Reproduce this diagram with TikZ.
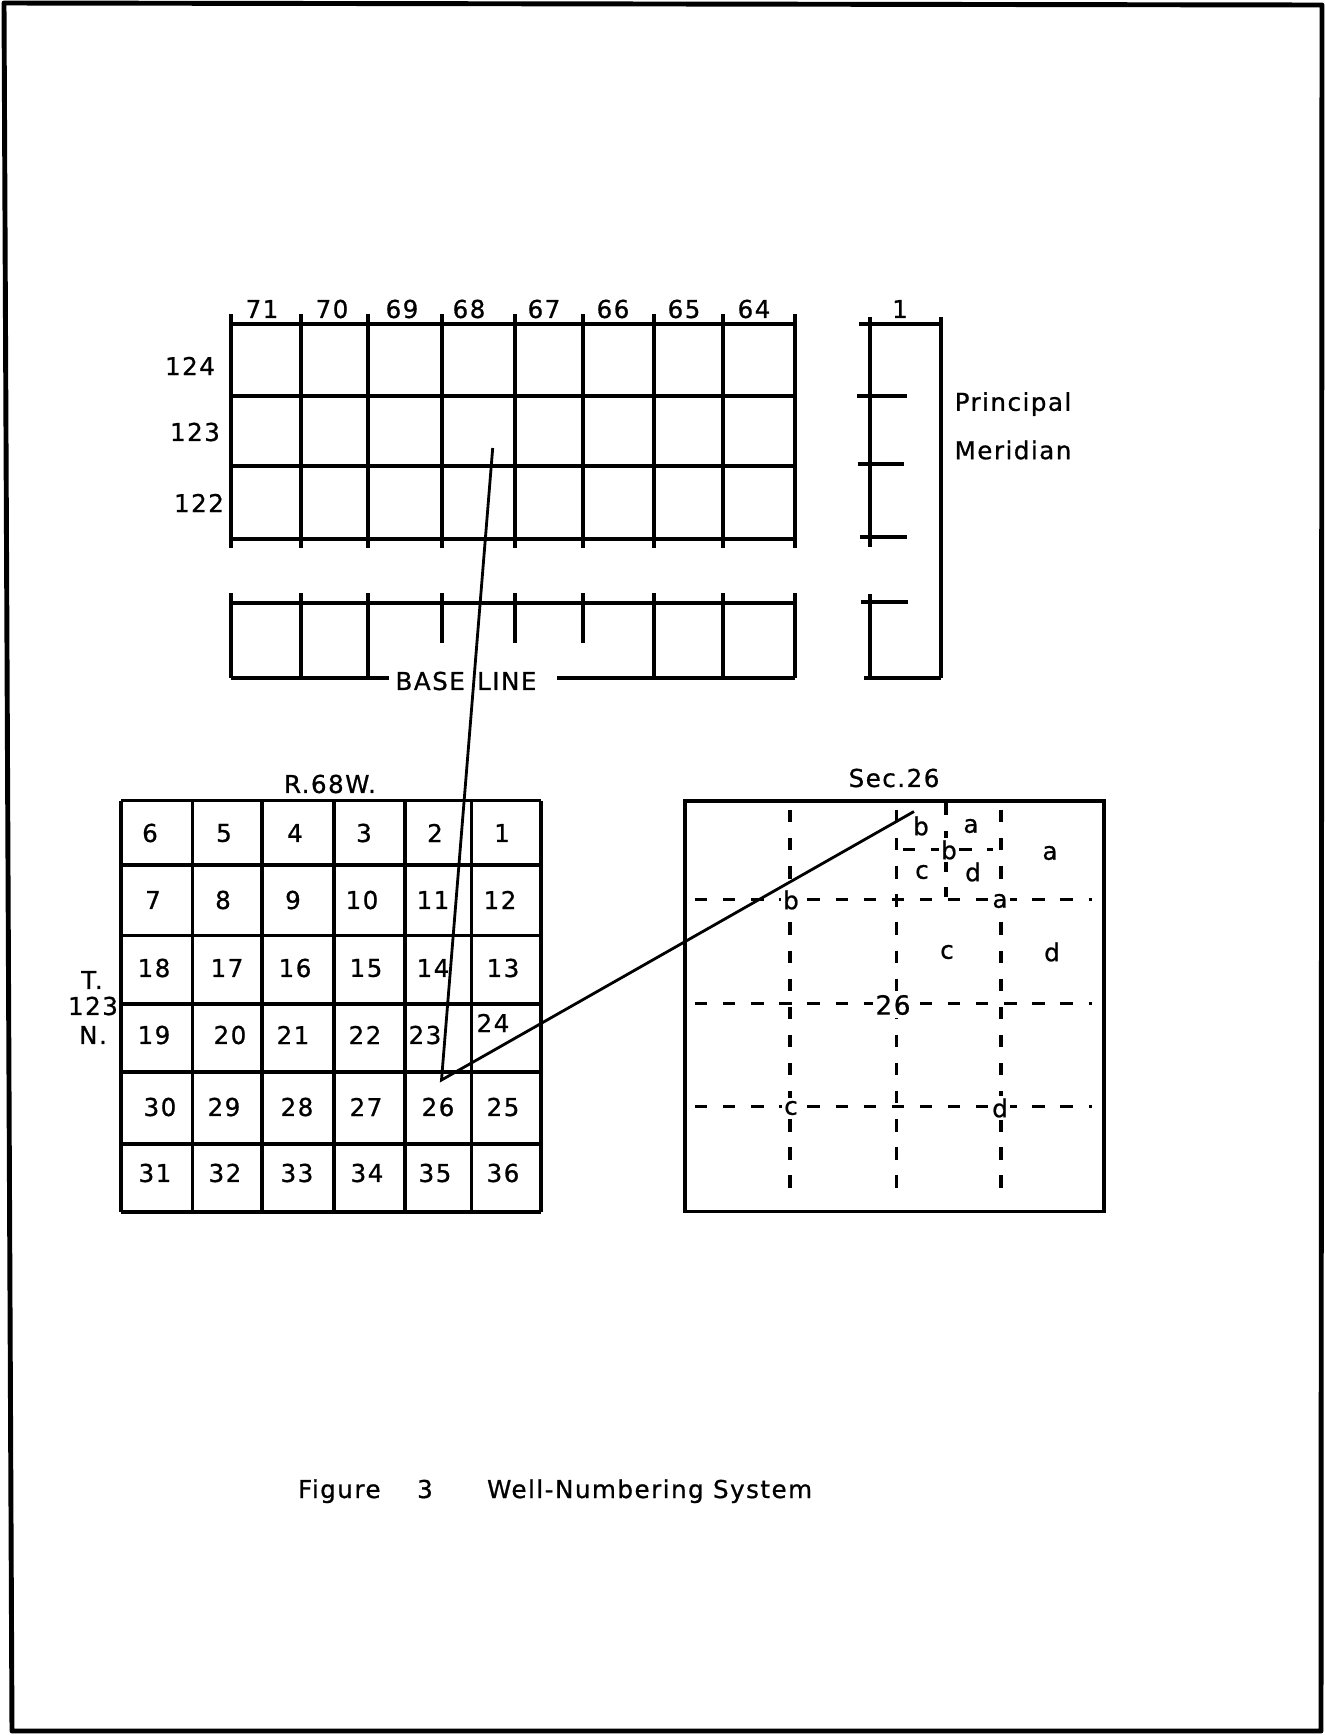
\documentclass[tikz,border=0pt]{standalone}
\usepackage{fontspec}
\setmainfont[LetterSpace=6,FakeBold=0.8]{DejaVu Sans}
\begin{document}
\begin{tikzpicture}[x=0.02cm,y=-0.02cm,
  gridline/.style={line width=2pt},
  pageframe/.style={line width=2.8pt, line join=round},
  dsh/.style={line width=1.8pt, dash pattern=on 7pt off 9pt},
  conn/.style={line width=1.6pt, line join=miter},
  lbl/.style={font=\fontsize{14}{16}\selectfont, inner sep=1pt},
  qlet/.style={font=\fontsize{14}{16}\selectfont, inner sep=1.5pt, fill=white},
]
\useasboundingbox (0,0) rectangle (1325,1735);
% page frame
\draw[pageframe] (4,3) -- (1322,5) -- (1321,1731) -- (12,1731) -- cycle;

% ---------- township / range grid (top) ----------
\foreach \x in {231,301,368,442,515,583,654,723,795}
  \draw[gridline] (\x,314) -- (\x,548);
\foreach \y in {324,396,466,539}
  \draw[gridline] (231,\y) -- (795,\y);
\foreach \n/\x in {71/262,70/332,69/402,68/469,67/544,66/613,65/684,64/754}
  \node[lbl] (c\n) at (\x,309) {\n};
\node[lbl] (r124) at (190,366) {124};
\node[lbl] (r123) at (195,432) {123};
\node[lbl] (r122) at (199,503) {122};

% lower strip with base line
\draw[gridline] (231,603) -- (795,603);
\draw[gridline] (231,678) -- (389,678);
\draw[gridline] (557,678) -- (795,678);
\foreach \x in {231,301,368,654,723,795}
  \draw[gridline] (\x,593) -- (\x,678);
\foreach \x in {442,515,583}
  \draw[gridline] (\x,593) -- (\x,643);
\node[lbl] (base) at (466,681) {BASE\hspace{7pt}LINE};

% principal meridian
\draw[gridline] (859,324) -- (941,324);
\draw[gridline] (941,317) -- (941,678);
\draw[gridline] (864,678) -- (941,678);
\draw[gridline] (870,317) -- (870,547);
\draw[gridline] (870,594) -- (870,678);
\draw[gridline] (857,396) -- (907,396);
\draw[gridline] (858,464) -- (904,464);
\draw[gridline] (860,537) -- (907,537);
\draw[gridline] (861,602) -- (908,602);
\node[lbl] (m1) at (900,309) {1};
\node[lbl] (pm1) at (1013,404) {Principal};
\node[lbl] (pm2) at (1013,450) {Meridian};

% ---------- township R.68W ----------
\foreach \x in {121,192.5,262,334,405,471.5,541}
  \draw[gridline] (\x,800.5) -- (\x,1212);
\foreach \y in {800.5,865,935.5,1004,1072,1144,1212}
  \draw[gridline] (121,\y) -- (541,\y);
\node[lbl] (rw) at (330,784) {R.68W.};
\node[lbl] (tT) at (92,980) {T.};
\node[lbl] (t123) at (93,1006) {123};
\node[lbl] (tN) at (93,1035) {N.};
\foreach \n/\x/\y in {
  6/150/833, 5/224/833, 4/295/833, 3/364/833, 2/435/833, 1/502/833,
  7/153/900, 8/223/900, 9/293/900, 10/362/900, 11/433/900, 12/500/900,
  18/154/968, 17/227/968, 16/295/968, 15/366/968, 14/433/968, 13/503/968,
  19/154/1035, 20/230/1035, 21/293/1035, 22/365/1035, 23/425/1035, 24/493/1023,
  30/160/1107, 29/224/1107, 28/297/1107, 27/366/1107, 26/438/1107, 25/503/1107,
  31/155/1173, 32/225/1173, 33/297/1173, 34/367/1173, 35/435/1173, 36/503/1173}
  \node[lbl] (s\n) at (\x,\y) {\n};

% ---------- section 26 ----------
\draw[gridline] (685,801) rectangle (1104,1211.5);
\node[lbl] (sec) at (894,778) {Sec.26};
\draw[dsh] (695,899.3) -- (1092,899.3);
\draw[dsh] (695,1003.3) -- (1092,1003.3);
\draw[dsh] (695,1106.7) -- (1092,1106.7);
\draw[dsh] (790,810) -- (790,1203);
\draw[dsh] (896.7,810) -- (896.7,1203);
\draw[dsh] (1001,810) -- (1001,1203);
\draw[dsh] (946,803) -- (946,897);
\draw[dsh] (903,849.3) -- (993,849.3);
\node[qlet] (qb1) at (921,826) {b};
\node[qlet] (qa1) at (971,826) {a};
\node[qlet] (qb2) at (949,850) {b};
\node[qlet] (qc1) at (922,872) {c};
\node[qlet] (qd1) at (973,872) {d};
\node[qlet] (qa2) at (1050,853) {a};
\node[qlet] (qb3) at (791,900) {b};
\node[qlet] (qa3) at (1000,901) {a};
\node[qlet] (qc2) at (947,952) {c};
\node[qlet] (qd2) at (1052,952) {d};
\node[qlet, font=\fontsize{15}{17}\selectfont] (q26) at (893,1005) {26};
\node[qlet] (qc3) at (791,1108) {c};
\node[qlet] (qd3) at (1000,1108) {d};

% ---------- connector ----------
\coordinate (p68) at (492.7,448);
\coordinate (p26) at (441.5,1080);
\coordinate (psec) at (914,811.5);
\draw[conn] (p68) -- (p26) -- (psec);

% caption
\node[lbl, anchor=base west] (fig) at (296,1498) {Figure};
\node[lbl, anchor=base] (fig3) at (425,1498) {3};
\node[lbl, anchor=base west] (figt) at (485,1498) {Well-Numbering System};
\end{tikzpicture}
\end{document}
